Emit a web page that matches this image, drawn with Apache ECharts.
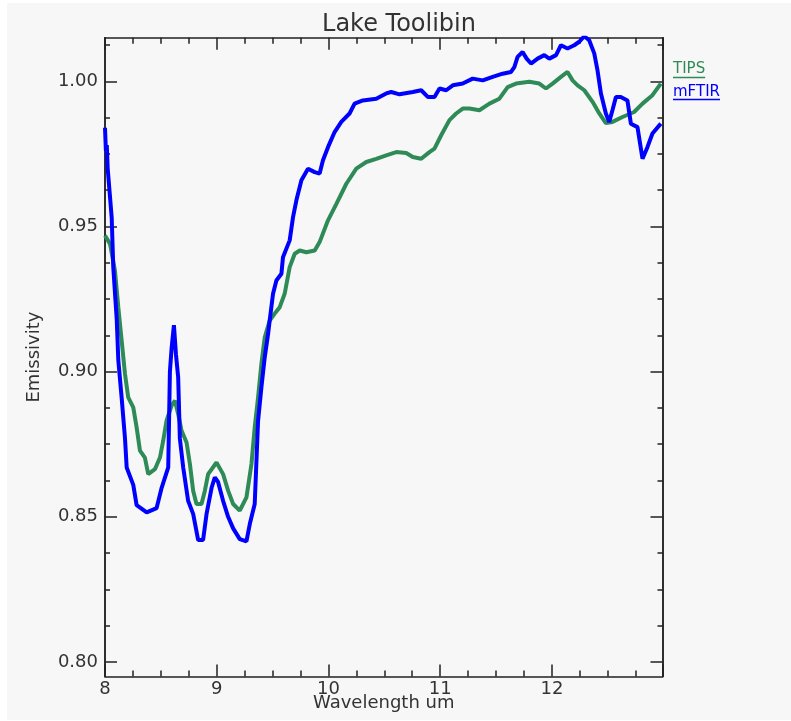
<!DOCTYPE html>
<html>
<head>
<meta charset="utf-8">
<script src="https://cdn.jsdelivr.net/npm/echarts@6/dist/echarts.min.js"></script>
<style>
  body { margin: 0; background: #ffffff; }
  #chart { position: absolute; left: 7px; top: 3px; width: 784px; height: 717px; }
</style>
</head>
<body>
<div id="chart"></div>
<script>
// TIPS spectrum (green)
const tipsWavelength = [8.000, 8.045, 8.089, 8.119, 8.149, 8.179, 8.208, 8.253, 8.283, 8.313, 8.357, 8.387, 8.447, 8.492, 8.521, 8.551, 8.596, 8.626, 8.655, 8.685, 8.730, 8.760, 8.789, 8.819, 8.864, 8.894, 8.923, 8.998, 9.057, 9.102, 9.147, 9.206, 9.266, 9.311, 9.340, 9.370, 9.400, 9.430, 9.474, 9.519, 9.564, 9.608, 9.653, 9.698, 9.743, 9.802, 9.877, 9.921, 9.996, 10.071, 10.160, 10.249, 10.339, 10.428, 10.517, 10.607, 10.696, 10.755, 10.830, 10.904, 10.949, 11.009, 11.083, 11.143, 11.202, 11.262, 11.351, 11.441, 11.530, 11.604, 11.679, 11.798, 11.887, 11.947, 12.006, 12.081, 12.140, 12.185, 12.230, 12.290, 12.364, 12.424, 12.483, 12.542, 12.632, 12.736, 12.811, 12.900, 12.975];
const tipsEmissivity = [0.9469, 0.944, 0.9348, 0.9222, 0.9107, 0.8992, 0.8911, 0.8877, 0.8808, 0.8728, 0.8704, 0.8647, 0.8664, 0.8704, 0.8762, 0.8831, 0.8883, 0.890, 0.8854, 0.8797, 0.8756, 0.8682, 0.859, 0.8544, 0.8544, 0.859, 0.8647, 0.8687, 0.8647, 0.859, 0.8544, 0.8521, 0.8567, 0.8682, 0.8808, 0.8911, 0.9027, 0.9118, 0.9176, 0.920, 0.9222, 0.9268, 0.936, 0.9406, 0.9417, 0.9411, 0.9417, 0.9446, 0.9521, 0.9578, 0.9647, 0.9699, 0.9722, 0.9733, 0.9745, 0.9756, 0.9753, 0.9739, 0.9733, 0.9756, 0.9768, 0.9814, 0.9866, 0.9889, 0.9906, 0.9906, 0.990, 0.9923, 0.994, 0.998, 0.9992, 0.9998, 0.9992, 0.9975, 0.9992, 1.0015, 1.0032, 1.0003, 0.9986, 0.9969, 0.9929, 0.9889, 0.9856, 0.986, 0.9877, 0.9894, 0.9923, 0.9952, 0.9992];

// mFTIR spectrum (blue)
const ftirWavelength = [8.000, 8.008, 8.016, 8.024, 8.060, 8.074, 8.105, 8.119, 8.149, 8.179, 8.194, 8.253, 8.283, 8.373, 8.462, 8.507, 8.566, 8.581, 8.596, 8.617, 8.635, 8.655, 8.670, 8.700, 8.744, 8.789, 8.834, 8.878, 8.909, 8.954, 8.983, 9.012, 9.057, 9.102, 9.147, 9.206, 9.266, 9.296, 9.340, 9.370, 9.400, 9.430, 9.460, 9.474, 9.504, 9.534, 9.579, 9.593, 9.653, 9.683, 9.713, 9.758, 9.817, 9.877, 9.921, 9.951, 9.996, 10.055, 10.115, 10.189, 10.234, 10.308, 10.428, 10.517, 10.562, 10.636, 10.755, 10.830, 10.889, 10.949, 10.994, 11.054, 11.113, 11.202, 11.291, 11.381, 11.470, 11.559, 11.634, 11.664, 11.693, 11.738, 11.774, 11.813, 11.872, 11.932, 11.977, 12.037, 12.081, 12.140, 12.200, 12.245, 12.290, 12.334, 12.379, 12.408, 12.439, 12.483, 12.513, 12.542, 12.573, 12.617, 12.676, 12.707, 12.766, 12.811, 12.855, 12.900, 12.975];
const ftirEmissivity = [0.984, 0.976, 0.978, 0.970, 0.953, 0.936, 0.918, 0.904, 0.891, 0.877, 0.867, 0.861, 0.854, 0.8515, 0.853, 0.860, 0.867, 0.900, 0.908, 0.916, 0.906, 0.898, 0.877, 0.867, 0.8555, 0.851, 0.842, 0.842, 0.851, 0.860, 0.8636, 0.862, 0.8555, 0.850, 0.846, 0.8423, 0.8415, 0.8475, 0.8544, 0.883, 0.8946, 0.905, 0.913, 0.9176, 0.9268, 0.9314, 0.9337, 0.9394, 0.9452, 0.9532, 0.959, 0.9659, 0.9699, 0.9687, 0.9682, 0.9728, 0.9773, 0.9825, 0.986, 0.9889, 0.9923, 0.9934, 0.994, 0.9958, 0.9963, 0.9955, 0.9963, 0.9969, 0.9946, 0.9946, 0.9975, 0.9969, 0.9986, 0.9992, 1.0009, 1.0003, 1.0015, 1.0026, 1.0032, 1.0049, 1.0084, 1.0101, 1.0078, 1.0061, 1.0078, 1.009, 1.0078, 1.009, 1.0124, 1.0113, 1.0124, 1.0136, 1.0155, 1.0141, 1.0096, 1.0038, 0.9958, 0.9889, 0.986, 0.990, 0.9946, 0.9946, 0.9934, 0.9854, 0.9842, 0.9733, 0.9773, 0.982, 0.9854];

// axis ticks
const yMajorTicks = [0.80, 0.85, 0.90, 0.95, 1.00];
const yMinorTicks = [0.8125, 0.825, 0.8375, 0.8625, 0.875, 0.8875, 0.9125, 0.925, 0.9375, 0.9625, 0.975, 0.9875, 1.0125];

const GREEN = '#2e8b57';
const BLUE = '#0000ff';
const AXIS = '#222222';
const FONT = 'DejaVu Sans';

const zip = (xs, ys) => xs.map((x, i) => [x, ys[i]]);

const axisLine = { show: true, lineStyle: { color: AXIS, width: 1.5 } };

function xAxisDef(pos, labels) {
  return {
    type: 'value', position: pos, min: 8, max: 12.99, interval: 1,
    axisLine: axisLine,
    axisTick: { inside: true, length: 12, lineStyle: { color: AXIS, width: 1.5 } },
    minorTick: { show: true, splitNumber: 4, length: 6, lineStyle: { color: AXIS, width: 1.5 } },
    axisLabel: {
      show: labels, margin: 4, color: '#333', fontFamily: FONT, fontSize: 18,
      showMaxLabel: false, formatter: v => String(v)
    },
    splitLine: { show: false },
    name: labels ? 'Wavelength um' : '', nameLocation: 'middle', nameGap: 18,
    nameMoveOverlap: false,
    nameTextStyle: { color: '#333', fontFamily: FONT, fontSize: 18 }
  };
}

function yAxisDef(pos, ticks, len, labels) {
  return {
    type: 'value', position: pos, min: 0.795, max: 1.015,
    axisLine: axisLine,
    axisTick: { inside: true, length: len, customValues: ticks, lineStyle: { color: AXIS, width: 1.5 } },
    axisLabel: {
      show: labels, customValues: ticks, margin: 7, color: '#333',
      fontFamily: FONT, fontSize: 18, formatter: v => v.toFixed(2)
    },
    splitLine: { show: false },
    name: labels ? 'Emissivity' : '', nameLocation: 'middle', nameGap: 62,
    nameMoveOverlap: false,
    nameTextStyle: { color: '#333', fontFamily: FONT, fontSize: 18 }
  };
}

const chart = echarts.init(document.getElementById('chart'));

// measure legend text so the underlines fit
const ctx = document.createElement('canvas').getContext('2d');
ctx.font = '15px ' + FONT;
const wTips = ctx.measureText('TIPS').width;
const wFtir = ctx.measureText('mFTIR').width;

chart.setOption({
  backgroundColor: '#f7f7f7',
  animation: false,
  title: {
    text: 'Lake Toolibin', left: 'center', top: 10, padding: 0,
    textStyle: { color: '#333', fontFamily: FONT, fontSize: 24, fontWeight: 'normal' }
  },
  legend: {
    orient: 'vertical', left: 661, top: 59, padding: 0, itemGap: 8,
    itemWidth: 0, itemHeight: 14, icon: 'rect',
    textStyle: { fontFamily: FONT, fontSize: 15 },
    data: [
      { name: 'TIPS', textStyle: { color: GREEN } },
      { name: 'mFTIR', textStyle: { color: BLUE } }
    ]
  },
  graphic: [
    { type: 'line', shape: { x1: 666, y1: 74.5, x2: 666 + wTips, y2: 74.5 }, style: { stroke: GREEN, lineWidth: 1.5 } },
    { type: 'line', shape: { x1: 666, y1: 96.5, x2: 666 + wFtir, y2: 96.5 }, style: { stroke: BLUE, lineWidth: 1.5 } }
  ],
  grid: { left: 98, top: 34.7, right: 128.5, bottom: 43.5, outerBoundsMode: 'none', containLabel: false },
  xAxis: [xAxisDef('bottom', true), xAxisDef('top', false)],
  yAxis: [
    yAxisDef('left', yMajorTicks, 12, true),
    yAxisDef('left', yMinorTicks, 5, false),
    yAxisDef('right', yMajorTicks, 12, false),
    yAxisDef('right', yMinorTicks, 5, false)
  ],
  series: [
    {
      name: 'TIPS', type: 'line', xAxisIndex: 0, yAxisIndex: 0,
      data: zip(tipsWavelength, tipsEmissivity), showSymbol: false, symbol: 'none',
      lineStyle: { color: GREEN, width: 4 }, itemStyle: { color: GREEN }
    },
    {
      name: 'mFTIR', type: 'line', xAxisIndex: 0, yAxisIndex: 0,
      data: zip(ftirWavelength, ftirEmissivity), showSymbol: false, symbol: 'none',
      lineStyle: { color: BLUE, width: 4 }, itemStyle: { color: BLUE }
    }
  ]
});
</script>
</body>
</html>
